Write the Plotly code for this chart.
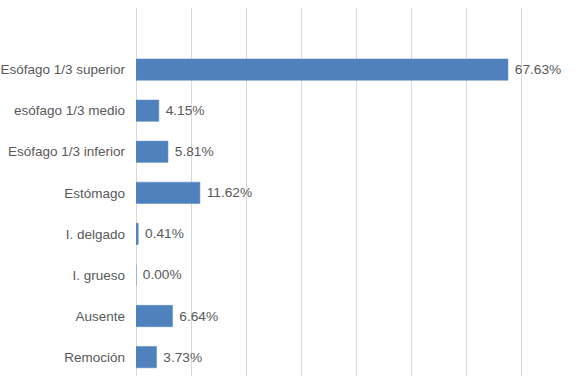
import plotly.graph_objects as go

categories = ["Esófago 1/3 superior", "esófago 1/3 medio", "Esófago 1/3 inferior",
              "Estómago", "I. delgado", "I. grueso", "Ausente", "Remoción"]
values = [67.63, 4.15, 5.81, 11.62, 0.41, 0.00, 6.64, 3.73]

n = len(categories)
positions = [n - 1 - i for i in range(n)]

fig = go.Figure(go.Bar(
    x=values,
    y=positions,
    orientation="h",
    width=0.52,
    marker=dict(color="#4F81BD", line=dict(color="#5A8AC6", width=0.5)),
    texttemplate="\u00a0%{x:.2f}%",
    textposition="outside",
    cliponaxis=False,
    textfont=dict(family="Liberation Sans, Arial, sans-serif", size=13.7, color="#595959"),
    hoverinfo="skip",
))

fig.update_layout(
    width=578, height=376,
    margin=dict(l=136, r=2, t=8, b=0),
    paper_bgcolor="white", plot_bgcolor="white",
    showlegend=False,
    font=dict(family="Liberation Sans, Arial, sans-serif", size=13.5, color="#595959"),
    xaxis=dict(range=[0, 80], dtick=10, showgrid=True, gridcolor="#D9D9D9", gridwidth=1,
               zeroline=True, zerolinecolor="#D9D9D9", zerolinewidth=1,
               showticklabels=False, ticks="", fixedrange=True),
    yaxis=dict(range=[-0.46, n + 0.5], tickvals=positions, ticktext=categories,
               showgrid=False, zeroline=False, ticks="", ticklabelstandoff=10,
               tickfont=dict(size=13.5, color="#595959")),
)

fig.write_html("out.html")
